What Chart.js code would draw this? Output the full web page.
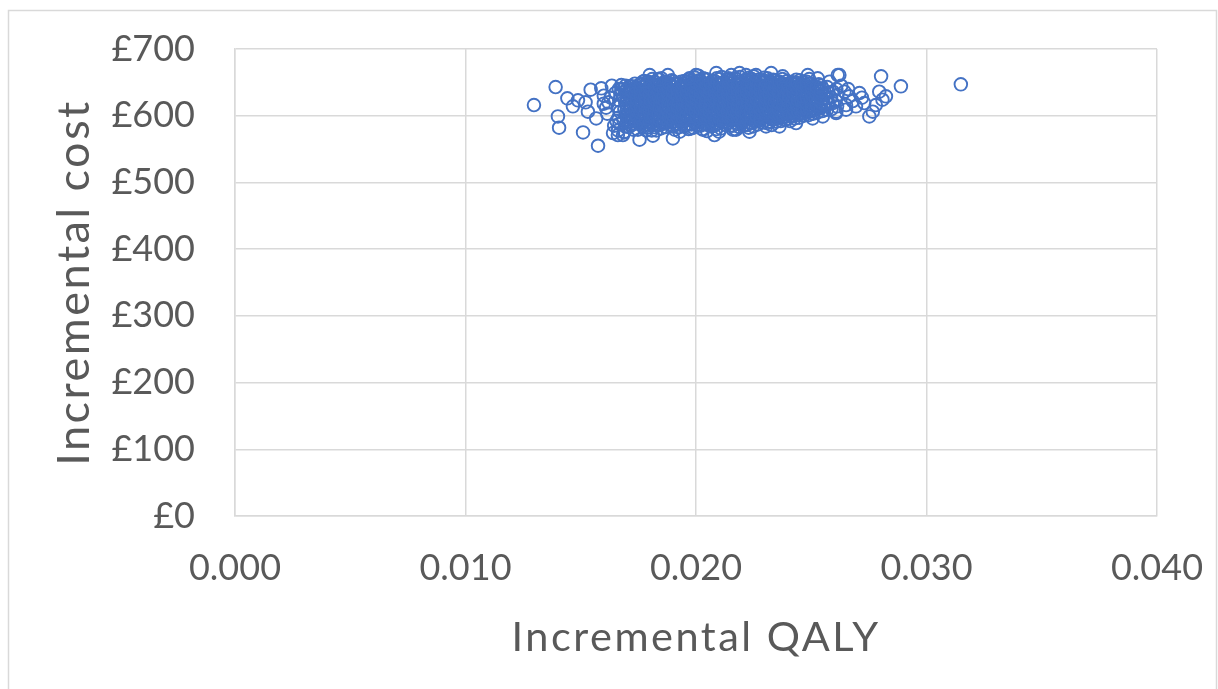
<!DOCTYPE html>
<html>
<head>
<meta charset="utf-8">
<script src="https://cdn.jsdelivr.net/npm/chart.js@4.4.1/dist/chart.umd.min.js"></script>
<style>
  html, body { margin: 0; padding: 0; background: #fff; }
  #wrap { width: 1218px; height: 689px; }
</style>
</head>
<body>
<div id="wrap"><canvas id="myChart" width="1218" height="689"></canvas></div>
<script>
// tick values
var qalyTicks = [0, 0.01, 0.02, 0.03, 0.04];
var costTicks = [0, 100, 200, 300, 400, 500, 600, 700];

// PSA iterations: [incremental QALY, incremental cost]
var leftTail = [
  [0.01297,616],[0.01391,643],[0.01401,599],[0.01406,582],[0.01442,626],[0.01466,614],
  [0.01488,623],[0.01510,575],[0.01521,620],[0.01531,606],[0.01543,639],[0.01567,596],
  [0.01575,555],[0.01589,641],[0.01600,630],[0.01610,612],[0.01620,620],[0.01615,603],
  [0.01635,645],[0.01640,574],[0.01650,634],[0.01655,592],[0.01661,571],[0.01676,640],
  [0.01683,571],[0.01690,576],[0.01676,646],[0.01630,627],[0.01600,618],[0.01645,585]
];

var coreBand = [
  [0.01662,578],[0.01668,588],[0.01664,597],[0.01670,606],[0.01661,614],[0.01667,623],[0.01672,631],[0.01665,640],
  [0.01688,575],[0.01692,584],[0.01686,593],[0.01694,601],[0.01689,610],[0.01693,619],[0.01687,627],[0.01691,636],[0.01695,645],
  [0.01708,583],[0.01712,592],[0.01705,601],[0.01714,610],[0.01709,618],[0.01715,627],[0.01706,635],[0.01711,644],
  [0.01728,579],[0.01732,588],[0.01726,596],[0.01734,605],[0.01729,614],[0.01733,622],[0.01727,631],[0.01731,640],[0.01735,648],
  [0.01748,579],[0.01752,588],[0.01745,596],[0.01755,604],[0.01749,613],[0.01753,621],[0.01746,630],[0.01751,638],[0.01756,647],
  [0.01768,584],[0.01772,592],[0.01766,601],[0.01774,609],[0.01769,617],[0.01773,626],[0.01767,635],[0.01771,643],[0.01775,652],
  [0.01788,582],[0.01793,591],[0.01786,600],[0.01795,608],[0.01789,617],[0.01792,625],[0.01787,634],[0.01794,642],[0.01790,651],
  [0.01808,578],[0.01812,586],[0.01806,595],[0.01814,604],[0.01809,612],[0.01813,621],[0.01807,629],[0.01811,638],[0.01815,646],[0.01810,655],
  [0.01828,578],[0.01834,587],[0.01826,595],[0.01832,604],[0.01829,612],[0.01835,621],[0.01827,629],[0.01833,638],[0.01830,646],[0.01836,655],
  [0.01848,581],[0.01852,590],[0.01846,598],[0.01854,607],[0.01849,615],[0.01853,624],[0.01847,632],[0.01851,641],[0.01855,649],[0.01850,656],
  [0.01868,583],[0.01873,592],[0.01866,600],[0.01874,609],[0.01869,617],[0.01872,626],[0.01867,634],[0.01875,643],[0.01870,651],
  [0.01888,586],[0.01892,595],[0.01886,603],[0.01894,612],[0.01889,620],[0.01893,629],[0.01887,637],[0.01891,646],[0.01895,653],
  [0.01908,579],[0.01913,588],[0.01906,597],[0.01914,605],[0.01909,614],[0.01912,622],[0.01907,631],[0.01915,639],[0.01910,648],
  [0.01928,583],[0.01932,592],[0.01926,600],[0.01934,609],[0.01929,617],[0.01933,626],[0.01927,634],[0.01931,643],[0.01935,651],
  [0.01948,584],[0.01953,593],[0.01946,601],[0.01954,610],[0.01949,618],[0.01952,627],[0.01947,635],[0.01955,644],[0.01950,652],
  [0.01968,580],[0.01972,588],[0.01966,597],[0.01974,605],[0.01969,614],[0.01973,622],[0.01967,631],[0.01971,639],[0.01975,648],[0.01970,655],
  [0.01988,582],[0.01993,590],[0.01986,599],[0.01994,607],[0.01989,616],[0.01992,624],[0.01987,633],[0.01995,641],[0.01990,650],[0.01996,657],
  [0.02008,585],[0.02012,594],[0.02006,602],[0.02014,611],[0.02009,619],[0.02013,628],[0.02007,636],[0.02011,645],[0.02015,653],[0.02010,660],
  [0.02028,580],[0.02033,589],[0.02026,597],[0.02034,606],[0.02029,614],[0.02032,623],[0.02027,631],[0.02035,640],[0.02030,648],[0.02031,656],
  [0.02048,577],[0.02052,586],[0.02046,594],[0.02054,603],[0.02049,611],[0.02053,620],[0.02047,628],[0.02051,637],[0.02055,645],[0.02050,654],
  [0.02068,584],[0.02073,593],[0.02066,601],[0.02074,610],[0.02069,618],[0.02072,627],[0.02067,635],[0.02075,644],[0.02070,652],
  [0.02088,580],[0.02092,588],[0.02086,597],[0.02094,605],[0.02089,614],[0.02093,622],[0.02087,631],[0.02091,639],[0.02095,648],[0.02090,656],
  [0.02108,581],[0.02113,590],[0.02106,598],[0.02114,607],[0.02109,615],[0.02112,624],[0.02107,632],[0.02115,641],[0.02110,649],[0.02111,658],
  [0.02128,586],[0.02132,595],[0.02126,603],[0.02134,612],[0.02129,620],[0.02133,629],[0.02127,637],[0.02131,646],[0.02135,654],
  [0.02148,585],[0.02153,594],[0.02146,602],[0.02154,611],[0.02149,619],[0.02152,628],[0.02147,636],[0.02155,645],[0.02150,653],
  [0.02168,580],[0.02172,589],[0.02166,597],[0.02174,606],[0.02169,614],[0.02173,623],[0.02167,631],[0.02171,640],[0.02175,648],[0.02170,656],
  [0.02188,583],[0.02193,591],[0.02186,600],[0.02194,608],[0.02189,617],[0.02192,625],[0.02187,634],[0.02195,642],[0.02190,651],[0.02191,658],
  [0.02208,586],[0.02212,595],[0.02206,603],[0.02214,612],[0.02209,620],[0.02213,629],[0.02207,637],[0.02211,646],[0.02215,654],
  [0.02228,582],[0.02233,590],[0.02226,599],[0.02234,607],[0.02229,616],[0.02232,624],[0.02227,633],[0.02235,641],[0.02230,650],[0.02231,657],
  [0.02248,584],[0.02252,593],[0.02246,601],[0.02254,610],[0.02249,618],[0.02253,627],[0.02247,635],[0.02251,644],[0.02255,652],[0.02250,659],
  [0.02268,587],[0.02273,595],[0.02266,604],[0.02274,612],[0.02269,621],[0.02272,629],[0.02267,638],[0.02275,646],[0.02270,654],
  [0.02288,590],[0.02292,599],[0.02286,607],[0.02294,616],[0.02289,624],[0.02293,633],[0.02287,641],[0.02291,650],[0.02295,657],
  [0.02308,589],[0.02313,597],[0.02306,606],[0.02314,614],[0.02309,623],[0.02312,631],[0.02307,640],[0.02315,648],[0.02310,656],
  [0.02328,586],[0.02332,594],[0.02326,603],[0.02334,611],[0.02329,620],[0.02333,628],[0.02327,637],[0.02331,645],[0.02335,654],
  [0.02348,591],[0.02353,600],[0.02346,608],[0.02354,617],[0.02349,625],[0.02352,634],[0.02347,642],[0.02355,651],
  [0.02368,592],[0.02372,597],[0.02366,605],[0.02374,614],[0.02369,622],[0.02373,631],[0.02367,639],[0.02371,648],[0.02375,655],
  [0.02388,594],[0.02393,602],[0.02386,611],[0.02394,619],[0.02389,628],[0.02392,636],[0.02387,645],[0.02395,652],
  [0.02408,592],[0.02412,599],[0.02406,608],[0.02414,616],[0.02409,625],[0.02413,633],[0.02407,642],[0.02411,650],
  [0.02428,596],[0.02433,605],[0.02426,613],[0.02434,622],[0.02429,630],[0.02432,639],[0.02427,647],[0.02435,654],
  [0.02448,597],[0.02452,603],[0.02446,611],[0.02454,620],[0.02449,628],[0.02453,637],[0.02447,645],[0.02451,653],
  [0.02468,600],[0.02473,608],[0.02466,617],[0.02474,625],[0.02469,634],[0.02472,642],[0.02467,650],
  [0.02488,601],[0.02492,606],[0.02486,614],[0.02494,623],[0.02489,631],[0.02493,640],[0.02487,648],[0.02491,655],
  [0.02508,603],[0.02513,611],[0.02506,620],[0.02514,628],[0.02509,637],[0.02512,645],
  [0.02528,605],[0.02532,613],[0.02526,622],[0.02534,630],[0.02529,639],[0.02533,647],
  [0.02548,607],[0.02553,615],[0.02546,624],[0.02554,632],[0.02549,641],
  [0.02568,609],[0.02572,618],[0.02566,626],[0.02574,635],[0.02569,643],
  [0.02588,610],[0.02593,619],[0.02586,627],[0.02594,636],
  [0.02608,606],[0.02612,614],[0.02606,623],[0.02614,631],[0.02609,640]
];

// the dense middle of the cloud, where the circles merge into a solid band
var denseCentre = [
  [0.01700,590],[0.01702,599],[0.01698,607],[0.01701,616],[0.01703,624],[0.01699,633],[0.01700,640],
  [0.01720,586],[0.01722,594],[0.01718,603],[0.01721,611],[0.01723,620],[0.01719,628],[0.01720,637],[0.01722,644],
  [0.01740,591],[0.01742,600],[0.01738,608],[0.01741,617],[0.01743,625],[0.01739,634],[0.01740,642],
  [0.01760,588],[0.01762,596],[0.01758,605],[0.01761,613],[0.01763,622],[0.01759,630],[0.01760,639],[0.01762,647],
  [0.01780,587],[0.01782,595],[0.01778,604],[0.01781,612],[0.01783,621],[0.01779,629],[0.01780,638],[0.01782,646],
  [0.01800,590],[0.01802,599],[0.01798,607],[0.01801,616],[0.01803,624],[0.01799,633],[0.01800,641],[0.01802,650],
  [0.01820,583],[0.01822,591],[0.01818,600],[0.01821,608],[0.01823,617],[0.01819,625],[0.01820,634],[0.01822,642],[0.01821,650],
  [0.01840,586],[0.01842,594],[0.01838,603],[0.01841,611],[0.01843,620],[0.01839,628],[0.01840,637],[0.01842,645],
  [0.01860,588],[0.01862,596],[0.01858,605],[0.01861,613],[0.01863,622],[0.01859,630],[0.01860,639],[0.01862,647],
  [0.01880,590],[0.01882,599],[0.01878,607],[0.01881,616],[0.01883,624],[0.01879,633],[0.01880,641],[0.01882,649],
  [0.01900,584],[0.01902,592],[0.01898,601],[0.01901,609],[0.01903,618],[0.01899,626],[0.01900,635],[0.01902,643],[0.01901,651],
  [0.01920,587],[0.01922,596],[0.01918,604],[0.01921,613],[0.01923,621],[0.01919,630],[0.01920,638],[0.01922,647],
  [0.01940,589],[0.01942,597],[0.01938,606],[0.01941,614],[0.01943,623],[0.01939,631],[0.01940,640],[0.01942,648],
  [0.01960,586],[0.01962,593],[0.01958,601],[0.01961,610],[0.01963,618],[0.01959,627],[0.01960,635],[0.01962,644],[0.01961,651],
  [0.01980,587],[0.01982,595],[0.01978,604],[0.01981,612],[0.01983,621],[0.01979,629],[0.01980,638],[0.01982,646],[0.01981,653],
  [0.02000,590],[0.02002,598],[0.01998,607],[0.02001,615],[0.02003,624],[0.01999,632],[0.02000,641],[0.02002,649],
  [0.02020,585],[0.02022,593],[0.02018,601],[0.02021,610],[0.02023,618],[0.02019,627],[0.02020,635],[0.02022,644],[0.02021,652],
  [0.02040,588],[0.02042,597],[0.02038,605],[0.02041,614],[0.02043,622],[0.02039,631],[0.02040,639],[0.02042,648],[0.02041,655],
  [0.02060,589],[0.02062,598],[0.02058,606],[0.02061,615],[0.02063,623],[0.02059,632],[0.02060,640],[0.02062,649],
  [0.02080,585],[0.02082,593],[0.02078,601],[0.02081,610],[0.02083,618],[0.02079,627],[0.02080,635],[0.02082,644],[0.02081,652],
  [0.02100,589],[0.02102,597],[0.02098,606],[0.02101,614],[0.02103,623],[0.02099,631],[0.02100,640],[0.02102,648],[0.02101,655],
  [0.02120,591],[0.02122,599],[0.02118,608],[0.02121,616],[0.02123,625],[0.02119,633],[0.02120,642],[0.02122,650],
  [0.02140,589],[0.02142,598],[0.02138,606],[0.02141,615],[0.02143,623],[0.02139,632],[0.02140,640],[0.02142,649],[0.02141,656],
  [0.02160,585],[0.02162,593],[0.02158,602],[0.02161,610],[0.02163,619],[0.02159,627],[0.02160,636],[0.02162,644],[0.02161,652],
  [0.02180,588],[0.02182,596],[0.02178,605],[0.02181,613],[0.02183,622],[0.02179,630],[0.02180,639],[0.02182,647],[0.02181,654],
  [0.02200,590],[0.02202,599],[0.02198,607],[0.02201,616],[0.02203,624],[0.02199,633],[0.02200,641],[0.02202,650],
  [0.02220,586],[0.02222,595],[0.02218,603],[0.02221,612],[0.02223,620],[0.02219,629],[0.02220,637],[0.02222,646],[0.02221,654],
  [0.02240,589],[0.02242,597],[0.02238,606],[0.02241,614],[0.02243,623],[0.02239,631],[0.02240,640],[0.02242,648],[0.02241,655],
  [0.02260,591],[0.02262,600],[0.02258,608],[0.02261,617],[0.02263,625],[0.02259,634],[0.02260,642],[0.02262,650],
  [0.02280,594],[0.02282,603],[0.02278,611],[0.02281,620],[0.02283,628],[0.02279,637],[0.02280,645],[0.02282,652],
  [0.02300,593],[0.02302,601],[0.02298,610],[0.02301,618],[0.02303,627],[0.02299,635],[0.02300,644],[0.02302,652],
  [0.02320,591],[0.02322,599],[0.02318,607],[0.02321,616],[0.02323,624],[0.02319,633],[0.02320,641],[0.02322,650],
  [0.02340,595],[0.02342,604],[0.02338,612],[0.02341,621],[0.02343,629],[0.02339,638],[0.02340,646],[0.02342,653],
  [0.02360,596],[0.02362,601],[0.02358,610],[0.02361,618],[0.02363,627],[0.02359,635],[0.02360,644],[0.02362,651],
  [0.02380,598],[0.02382,606],[0.02378,615],[0.02381,623],[0.02383,632],[0.02379,640],[0.02380,648],
  [0.02400,596],[0.02402,604],[0.02398,612],[0.02401,621],[0.02403,629],[0.02399,638],[0.02400,646],
  [0.02420,600],[0.02422,609],[0.02418,617],[0.02421,626],[0.02423,634],[0.02419,643],[0.02420,650],
  [0.02440,601],[0.02442,607],[0.02438,616],[0.02441,624],[0.02443,633],[0.02439,641],[0.02440,649],
  [0.02460,603],[0.02462,612],[0.02458,621],[0.02461,629],[0.02463,638],[0.02459,646],
  [0.02480,605],[0.02482,610],[0.02478,619],[0.02481,627],[0.02483,636],[0.02479,644],[0.02480,651],
  [0.02500,607],[0.02502,615],[0.02498,624],[0.02501,632],[0.02503,641],[0.02499,648],
  [0.02520,609],[0.02522,617],[0.02518,626],[0.02521,634],[0.02523,643],
  [0.02540,611],[0.02542,620],[0.02538,628],[0.02541,637],[0.02543,645]
];

var lowerEdge = [
  [0.01755,564],[0.01784,578],[0.01813,570],[0.01900,566],[0.01929,576],[0.01979,581],
  [0.02030,579],[0.02080,571],[0.02100,576],[0.02160,579],[0.02174,579],[0.02232,576],
  [0.02304,584],[0.02362,584],[0.02434,589],[0.02506,596],[0.02550,599],[0.02608,604]
];

var upperEdge = [
  [0.01770,651],[0.01799,661],[0.01842,654],[0.01878,661],[0.01972,656],[0.02000,661],
  [0.02088,664],[0.02153,661],[0.02189,664],[0.02217,661],[0.02260,661],[0.02326,664],
  [0.02376,659],[0.02485,661],[0.02528,656],[0.02579,651],[0.02615,661],[0.02622,661]
];

var rightTail = [
  [0.02644,636],[0.02651,616],[0.02651,609],[0.02665,629],[0.02694,614],[0.02709,634],
  [0.02730,619],[0.02752,599],[0.02767,606],[0.02780,616],[0.02795,636],[0.02803,659],
  [0.02809,624],[0.02824,629],[0.02889,644],[0.03149,647],[0.02680,622],[0.02720,627],
  [0.02630,645],[0.02660,640]
];

var allPoints = leftTail.concat(coreBand, denseCentre, lowerEdge, upperEdge, rightTail).map(function(p){
  return {x: p[0], y: p[1]};
});

var gray = "#595959";
var gridGray = "#d9d9d9";

// outer frame of the chart object
var framePlugin = {
  id: "frame",
  beforeDraw: function(chart){
    var c = chart.ctx;
    c.save();
    c.fillStyle = "#fff";
    c.fillRect(0, 0, chart.width, chart.height);
    c.strokeStyle = gridGray;
    c.lineWidth = 1.5;
    c.strokeRect(8.5, 10.5, 1208, 700);
    c.restore();
  }
};

// the axis titles run a little wider than the tick labels
var titleSpacing = {
  id: "titleSpacing",
  beforeDraw: function(chart){ chart.ctx.letterSpacing = "2.5px"; },
  beforeDatasetsDraw: function(chart){ chart.ctx.letterSpacing = "0px"; }
};

function noOverhang(scale){
  scale.paddingTop = 0;
  scale.paddingBottom = 0;
  scale.paddingLeft = 0;
  scale.paddingRight = 0;
}

var ctx = document.getElementById("myChart").getContext("2d");
var chart = new Chart(ctx, {
  type: "scatter",
  data: {
    datasets: [{
      label: "PSA",
      data: allPoints,
      pointStyle: "circle",
      pointRadius: 6.3,
      pointBorderWidth: 1.9,
      pointBorderColor: "#4472C4",
      pointBackgroundColor: "rgba(0,0,0,0)",
      pointHoverRadius: 6.3
    }]
  },
  options: {
    responsive: false,
    animation: false,
    devicePixelRatio: 1,
    layout: { padding: { left: 0, top: 49, right: 61, bottom: 0 } },
    plugins: { legend: { display: false }, tooltip: { enabled: false } },
    scales: {
      x: {
        type: "linear",
        min: 0, max: 0.04,
        afterBuildTicks: function(scale){ scale.ticks = qalyTicks.map(function(v){ return {value: v}; }); },
        afterFit: function(scale){ scale.height = 173; noOverhang(scale); },
        grid: { color: gridGray, lineWidth: 1.5, drawTicks: false },
        border: { color: gridGray, width: 1.5 },
        ticks: {
          z: 1,
          padding: 31,
          color: gray,
          font: { family: "Lato", size: 36 },
          maxRotation: 0,
          callback: function(v){ return Number(v).toFixed(3); }
        },
        title: {
          display: true,
          text: "Incremental QALY",
          color: gray,
          font: { family: "Lato", size: 41.5 },
          padding: { top: 0, bottom: 26 }
        }
      },
      y: {
        type: "linear",
        min: 0, max: 700,
        afterBuildTicks: function(scale){ scale.ticks = costTicks.map(function(v){ return {value: v}; }); },
        afterFit: function(scale){ scale.width = 235; noOverhang(scale); },
        grid: { color: gridGray, lineWidth: 1.5, drawTicks: false },
        border: { color: gridGray, width: 1.5 },
        ticks: {
          z: 1,
          padding: 40,
          color: gray,
          font: { family: "Lato", size: 36 },
          callback: function(v){ return "£" + v; }
        },
        title: {
          display: true,
          text: "Incremental cost",
          color: gray,
          font: { family: "Lato", size: 45 },
          padding: { top: 47, bottom: 0 }
        }
      }
    }
  },
  plugins: [framePlugin, titleSpacing]
});
</script>
</body>
</html>
